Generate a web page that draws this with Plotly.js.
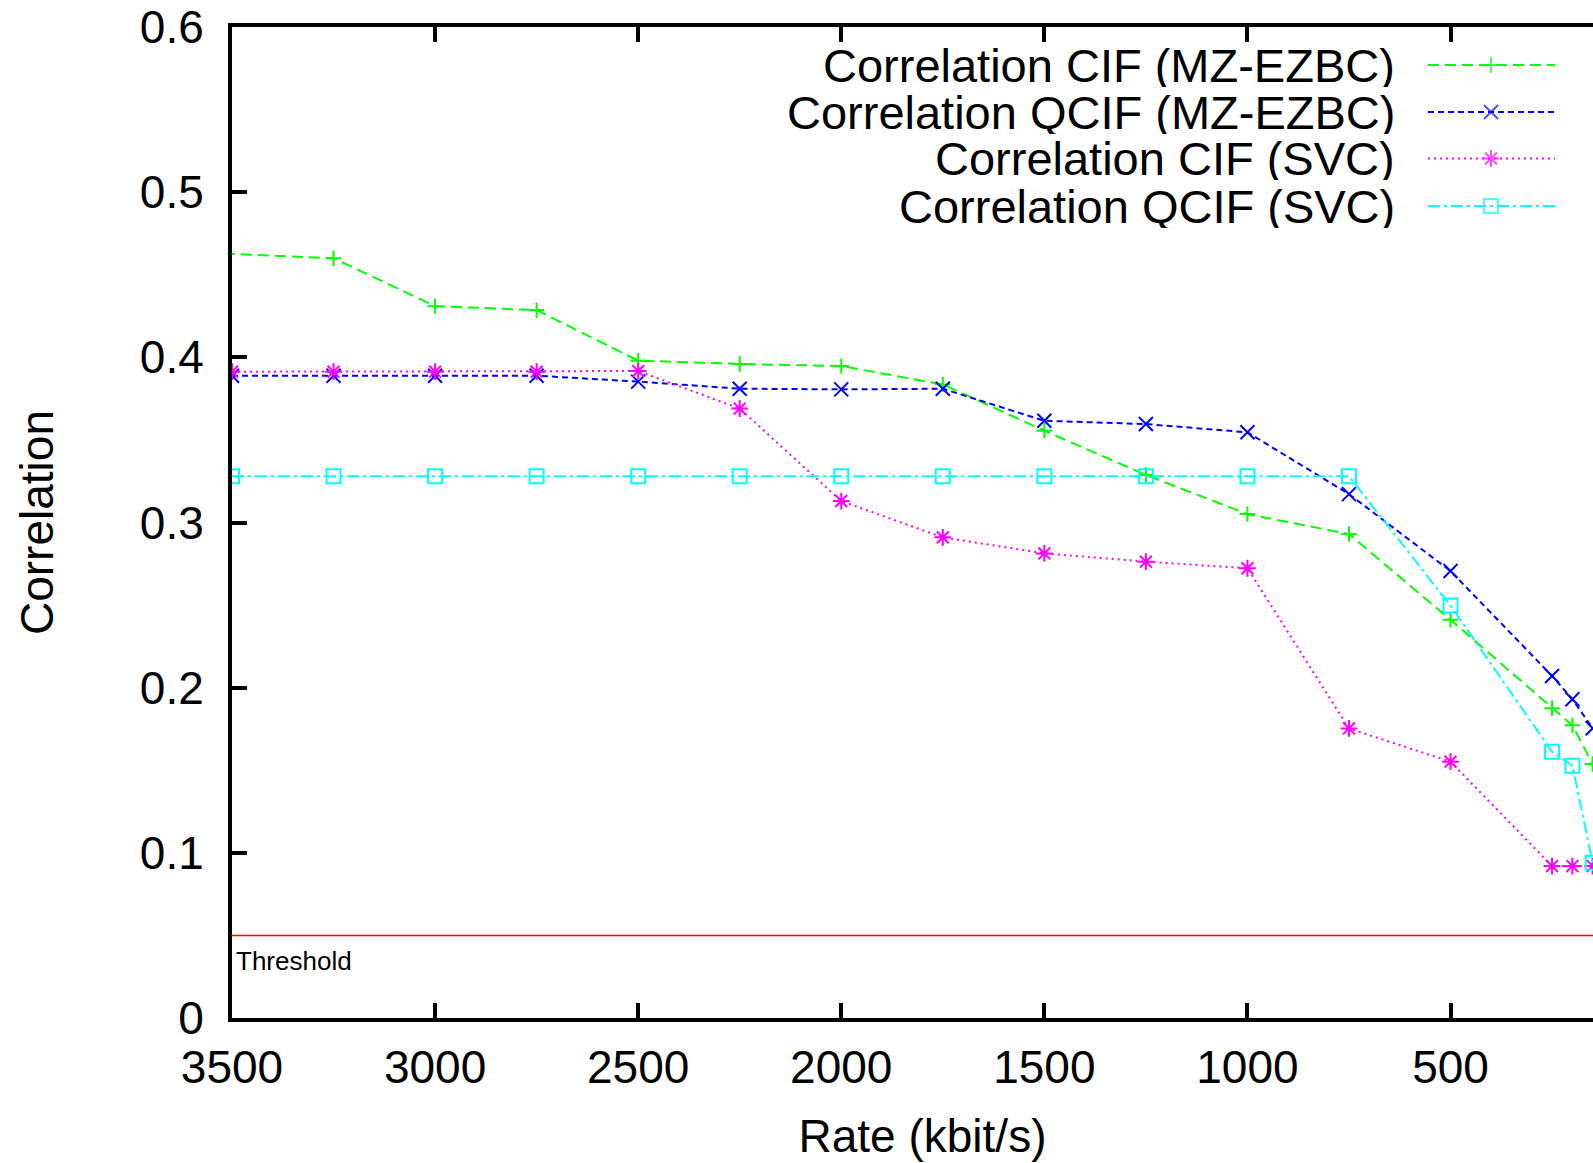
<!DOCTYPE html>
<html>
<head>
<meta charset="utf-8">
<script src="https://cdn.plot.ly/plotly-3.0.1.min.js"></script>
<style>
  html, body { margin: 0; padding: 0; overflow: hidden; background: #ffffff; }
  #chart { width: 1613px; height: 1163px; }
</style>
</head>
<body>
<div id="chart"></div>
<script>
// ---------------- data ----------------
const rates = [3500, 3250, 3000, 2750, 2500, 2250, 2000, 1750, 1500, 1250, 1000, 750, 500, 250, 200, 150];
const ratesCifMz = [3520, 3250, 3000, 2750, 2500, 2250, 2000, 1750, 1500, 1250, 1000, 750, 500, 250, 200, 150];

const corrCifMz   = [0.4628, 0.4600, 0.4310, 0.4286, 0.3980, 0.3960, 0.3947, 0.3836, 0.3556, 0.3288, 0.3051, 0.2930, 0.2411, 0.1875, 0.1772, 0.1538];
const corrQcifMz  = [0.3889, 0.3889, 0.3889, 0.3889, 0.3853, 0.3810, 0.3806, 0.3810, 0.3616, 0.3596, 0.3546, 0.3172, 0.2706, 0.2071, 0.1930, 0.1754];
const corrCifSvc  = [0.3913, 0.3913, 0.3913, 0.3913, 0.3917, 0.3690, 0.3130, 0.2910, 0.2813, 0.2763, 0.2723, 0.1753, 0.1552, 0.0920, 0.0920, 0.0920];
const corrQcifSvc = [0.3280, 0.3280, 0.3280, 0.3280, 0.3280, 0.3280, 0.3280, 0.3280, 0.3280, 0.3280, 0.3280, 0.3280, 0.2497, 0.1612, 0.1528, 0.0940];

const thresholdValue = 0.05;
const thresholdRates = [3500, 100];
const thresholdLabel = "Threshold";

const seriesNames = [
  "Correlation CIF (MZ-EZBC)",
  "Correlation QCIF (MZ-EZBC)",
  "Correlation CIF (SVC)",
  "Correlation QCIF (SVC)"
];
const xTitle = "Rate (kbit/s)";
const yTitle = "Correlation";

// ---------------- styles ----------------
const FONT = "Liberation Sans, Arial, Helvetica, sans-serif";
const styles = [
  { color: "#00ff00", dash: "11px,6px", symbol: "cross-thin-open", size: 11 },
  { color: "#0000ff", dash: "6px,4px",  symbol: "x-thin-open",     size: 14 },
  { color: "#ff00ff", dash: "2px,4px",  symbol: "asterisk-open",   size: 14 },
  { color: "#00ffff", dash: "12px,4px,3px,4px", symbol: "square-open", size: 14 }
];
const xs = [ratesCifMz, rates, rates, rates];
const ys = [corrCifMz, corrQcifMz, corrCifSvc, corrQcifSvc];

// plot geometry (pixels)
const W = 1613, H = 1163;
const M = { l: 232, r: 0, t: 27, b: 145 };
const PW = W - M.l - M.r, PH = H - M.t - M.b;
const px2fx = p => (p - M.l) / PW;
const py2fy = p => (H - M.b - p) / PH;

const traces = [];
// threshold line
traces.push({
  x: thresholdRates, y: thresholdRates.map(() => thresholdValue),
  mode: "lines", line: { color: "#ff0000", width: 1.5 },
  hoverinfo: "skip", showlegend: false
});
for (let i = 0; i < 4; i++) {
  traces.push({
    x: xs[i], y: ys[i], name: seriesNames[i],
    mode: "lines+markers",
    line: { color: styles[i].color, width: 2, dash: styles[i].dash },
    marker: { symbol: styles[i].symbol, size: styles[i].size, color: styles[i].color,
              line: { color: styles[i].color, width: 2 } },
    showlegend: false
  });
}

// custom legend (text right, sample on right side like gnuplot)
const legRowY = [65, 112, 158.5, 206];
const legTextRight = 1397;
const legLineX0 = 1428, legLineX1 = 1555, legMarkX = 1491;
const annotations = [];
for (let i = 0; i < 4; i++) {
  const fy = py2fy(legRowY[i]);
  traces.push({
    x: [px2fx(legLineX0), px2fx(legMarkX), px2fx(legLineX1)],
    y: [fy, fy, fy],
    xaxis: "x2", yaxis: "y2",
    mode: "lines+markers",
    line: { color: styles[i].color, width: 2, dash: styles[i].dash },
    marker: { symbol: styles[i].symbol, size: [0, styles[i].size, 0], color: styles[i].color,
              line: { color: styles[i].color, width: 2 } },
    cliponaxis: false, showlegend: false, hoverinfo: "skip"
  });
  annotations.push({
    xref: "paper", yref: "paper",
    x: px2fx(legTextRight), y: fy, xanchor: "right", yanchor: "middle",
    text: seriesNames[i], showarrow: false, height: 44,
    font: { family: FONT, size: 47, color: "#000000" }
  });
}
annotations.push({
  xref: "paper", yref: "paper",
  x: px2fx(234), y: py2fy(961), xanchor: "left", yanchor: "middle",
  text: thresholdLabel, showarrow: false,
  font: { family: FONT, size: 26, color: "#000000" }
});

const layout = {
  width: W, height: H,
  margin: M,
  paper_bgcolor: "#ffffff", plot_bgcolor: "#ffffff",
  font: { family: FONT, color: "#000000" },
  showlegend: false,
  xaxis: {
    range: [3500, 100], tick0: 0, dtick: 500,
    showgrid: false, zeroline: false,
    showline: true, linecolor: "#000000", linewidth: 4, mirror: "ticks",
    ticks: "inside", ticklen: 15, tickwidth: 4, tickcolor: "#000000",
    ticklabelstandoff: 6,
    tickfont: { family: FONT, size: 46, color: "#000000" },
    title: { text: xTitle, font: { family: FONT, size: 46, color: "#000000" }, standoff: 29 }
  },
  yaxis: {
    range: [0, 0.6], tick0: 0, dtick: 0.1,
    showgrid: false, zeroline: false,
    showline: true, linecolor: "#000000", linewidth: 4, mirror: false,
    ticks: "inside", ticklen: 15, tickwidth: 4, tickcolor: "#000000",
    ticklabelstandoff: 15,
    tickfont: { family: FONT, size: 46, color: "#000000" },
    title: { text: yTitle, font: { family: FONT, size: 46, color: "#000000" }, standoff: 73 }
  },
  xaxis2: { overlaying: "x", anchor: "y2", range: [0, 1], visible: false, fixedrange: true },
  yaxis2: { overlaying: "y", anchor: "x2", range: [0, 1], visible: false, fixedrange: true },
  annotations: annotations
};

Plotly.newPlot("chart", traces, layout, { displayModeBar: false, staticPlot: true });
</script>
</body>
</html>
